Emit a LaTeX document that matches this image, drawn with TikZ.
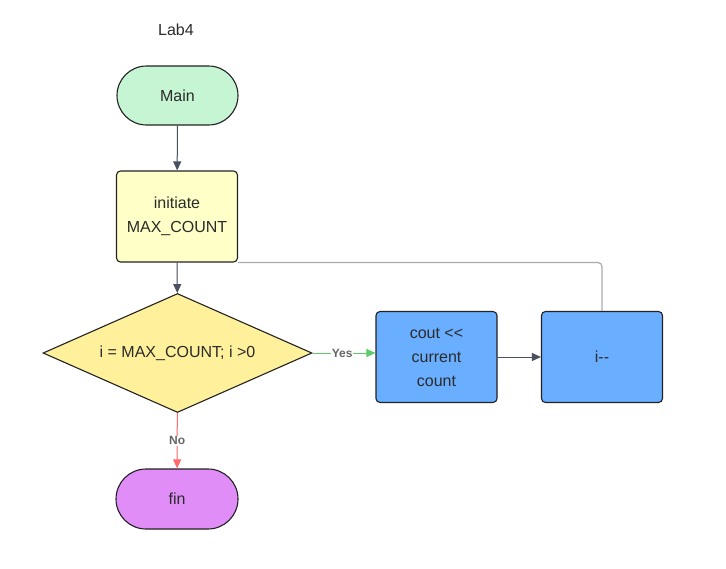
\documentclass[tikz,border=0pt]{standalone}
\usepackage{fontspec}
\setmainfont{Liberation Sans}[Ligatures=TeXOff]
\usetikzlibrary{shapes.geometric,shapes.misc,arrows.meta}
\definecolor{txt}{HTML}{2B2B2B}
\definecolor{edge}{HTML}{222222}
\definecolor{mainfill}{HTML}{C5F5D3}
\definecolor{initfill}{HTML}{FFFFC8}
\definecolor{decfill}{HTML}{FFF19C}
\definecolor{bluefill}{HTML}{6AAEFF}
\definecolor{finfill}{HTML}{E08DF8}
\definecolor{conn}{HTML}{4A5060}
\definecolor{loopc}{HTML}{A8ABB2}
\definecolor{yesc}{HTML}{5CCB6A}
\definecolor{noc}{HTML}{FF6B6B}
\definecolor{lblc}{HTML}{666666}
\tikzset{
  base/.style={draw=edge, line width=1.1pt, text=txt, font=\fontsize{16}{24}\selectfont, align=center, inner sep=0pt},
  term/.style={base, rounded rectangle, minimum width=121pt, minimum height=59pt},
  procbox/.style={base, rectangle, rounded corners=4pt, minimum width=121pt, minimum height=91pt},
  decbox/.style={base, diamond, aspect=2.26, minimum width=269pt, minimum height=119pt},
  arr/.style={line width=1pt, -{Triangle[length=9pt,width=8pt]}},
  lbl/.style={font=\bfseries\fontsize{12}{14}\selectfont, text=lblc, fill=white, inner sep=1pt}
}
\begin{document}
\begin{tikzpicture}[x=1pt,y=-1pt]
\useasboundingbox (0,0) rectangle (726,568);
\node[font=\fontsize{16}{20}\selectfont, text=txt] (title) at (176,30) {Lab4};
\node[term, fill=mainfill] (main) at (177.5,95.5) {Main};
\node[procbox, fill=initfill] (init) at (177,216.5) {initiate\\MAX\_COUNT};
\node[decbox, fill=decfill] (dec) at (177.5,353) {i = MAX\_COUNT; i >0};
\node[term, fill=finfill, minimum width=122pt, minimum height=60pt] (fin) at (177,499) {fin};
\node[procbox, fill=bluefill] (cout) at (436.5,357) {cout <<\\current\\count};
\node[procbox, fill=bluefill] (dec2) at (602,357) {i--};
\draw[arr, draw=conn, fill=conn] (main) -- (init);
\draw[arr, draw=conn, fill=conn] (init) -- (dec);
\draw[arr, draw=yesc, fill=yesc] (dec.east) -- node[lbl, pos=0.47] {Yes} (cout.west |- dec.east);
\draw[arr, draw=noc, fill=noc] (dec) -- node[lbl, pos=0.5] {No} (fin);
\draw[arr, draw=conn, fill=conn] (cout) -- (dec2);
\draw[loopc, line width=1.2pt, rounded corners=4pt] (dec2.north) |- (init.south east);
\end{tikzpicture}
\end{document}
